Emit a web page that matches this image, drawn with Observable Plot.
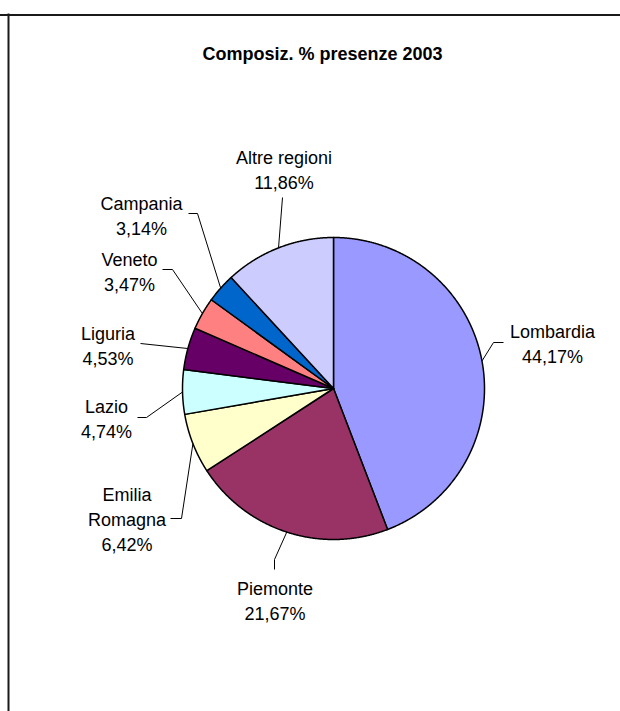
<!DOCTYPE html>
<html>
<head>
<meta charset="utf-8">
<script src="https://cdn.jsdelivr.net/npm/d3@7"></script>
<script src="https://cdn.jsdelivr.net/npm/@observablehq/plot@0.6"></script>
<style>
  html, body { margin: 0; padding: 0; background: #ffffff; }
  #chart svg { display: block; }
</style>
</head>
<body>
<div id="chart"></div>
<script>
// ---------- data ----------
const regions = ["Lombardia", "Piemonte", "Emilia Romagna", "Lazio", "Liguria", "Veneto", "Campania", "Altre regioni"];
const shares = [44.17, 21.67, 6.42, 4.74, 4.53, 3.47, 3.14, 11.86];
const labelNames = ["Lombardia", "Piemonte", "Emilia\nRomagna", "Lazio", "Liguria", "Veneto", "Campania", "Altre regioni"];
const sliceColors = ["#9999FF", "#993366", "#FFFFCC", "#CCFFFF", "#660066", "#FF8080", "#0066CC", "#CCCCFF"];
const title = "Composiz. % presenze 2003";

// ---------- layout ----------
const W = 620, H = 711;
const pieCenter = [333, 388];
const pieRadius = 151;
const frameTop = 14.5, frameLeft = 8;
const titlePos = [322, 54];
const labelPos = [[552, 342], [274.5, 599], [126.5, 517], [106, 416.5], [107.5, 344], [129, 269.5], [141, 214], [283.5, 167.5]];
const leaderElbows = [
  [[503, 342], [493, 342]],
  [[274, 569], [274, 559]],
  [[170, 518], [181, 518]],
  [[137, 417], [146, 417]],
  [[140, 343]],
  [[162, 269], [172, 269]],
  [[188, 213], [197, 213]],
  [[282, 197]]
];
const font = "'Liberation Sans', Arial, Helvetica, sans-serif";

// ---------- geometry from data ----------
const arcs = d3.pie().sort(null).value(d => d)(shares);
const pt = (a, r) => [pieCenter[0] + r * Math.sin(a), pieCenter[1] - r * Math.cos(a)];

const slicePts = [];
arcs.forEach((a, i) => {
  const steps = Math.max(2, Math.ceil((a.endAngle - a.startAngle) / (Math.PI / 720)));
  slicePts.push({region: regions[i], color: sliceColors[i], x: pieCenter[0], y: pieCenter[1]});
  for (let k = 0; k <= steps; k++) {
    const ang = a.startAngle + (a.endAngle - a.startAngle) * k / steps;
    const [x, y] = pt(ang, pieRadius);
    slicePts.push({region: regions[i], color: sliceColors[i], x, y});
  }
  slicePts.push({region: regions[i], color: sliceColors[i], x: pieCenter[0], y: pieCenter[1]});
});

const leaderPts = [];
arcs.forEach((a, i) => {
  leaderElbows[i].forEach(([x, y]) => leaderPts.push({region: regions[i], x, y}));
  const [x, y] = pt((a.startAngle + a.endAngle) / 2, pieRadius);
  leaderPts.push({region: regions[i], x, y});
});

const fmt = v => v.toFixed(2).replace(".", ",") + "%";
const labels = regions.map((r, i) => ({
  region: r,
  x: labelPos[i][0],
  y: labelPos[i][1],
  text: labelNames[i] + "\n" + fmt(shares[i])
}));

const chart = Plot.plot({
  width: W,
  height: H,
  margin: 0,
  x: {type: "identity", axis: null},
  y: {type: "identity", axis: null},
  color: {type: "identity"},
  style: {fontFamily: font, background: "#ffffff"},
  marks: [
    Plot.ruleY([frameTop], {x1: 0, x2: W, stroke: "#1a1a1a", strokeWidth: 2}),
    Plot.ruleX([frameLeft], {y1: frameTop - 1, y2: H, stroke: "#1a1a1a", strokeWidth: 2}),
    Plot.line(slicePts, {x: "x", y: "y", z: "region", fill: "color", stroke: "#000", strokeWidth: 1.5, strokeLinejoin: "round", curve: "linear"}),
    Plot.line(leaderPts, {x: "x", y: "y", z: "region", stroke: "#000", strokeWidth: 1, strokeLinejoin: "miter", strokeLinecap: "butt"}),
    Plot.text(labels, {x: "x", y: "y", text: "text", fontSize: 18, lineHeight: 1.39, fill: "#000", fontFamily: font, textAnchor: "middle"}),
    Plot.text([title], {x: () => titlePos[0], y: () => titlePos[1], text: d => d, fontSize: 18, fontWeight: "bold", fill: "#000", fontFamily: font})
  ]
});

document.getElementById("chart").appendChild(chart);
</script>
</body>
</html>
